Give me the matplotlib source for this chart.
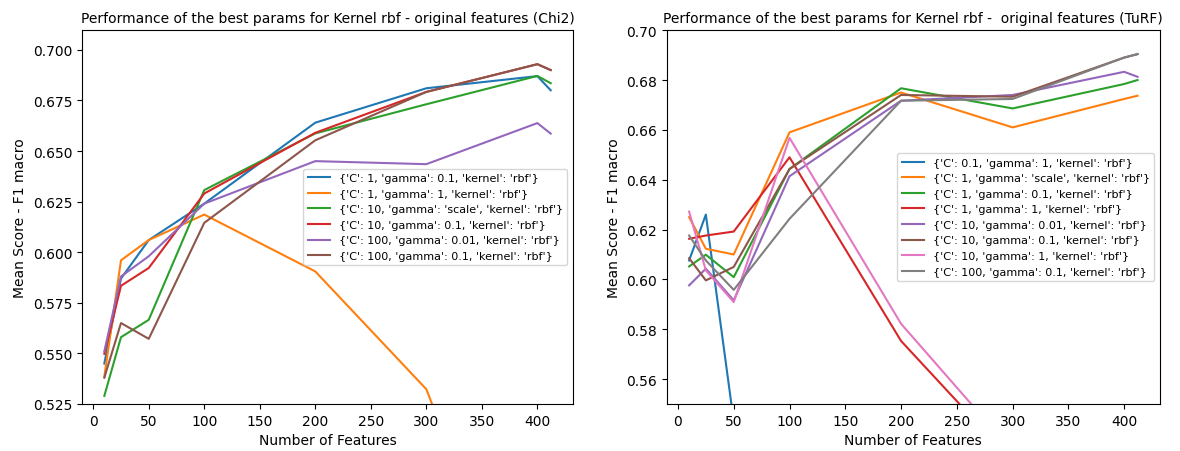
import matplotlib
matplotlib.use('Agg')
import matplotlib.pyplot as plt

# number of features tested
n_feats = [10, 25, 50, 100, 200, 300, 400, 412]

# Chi2 selection - mean F1 macro per best param set
chi2_labels = ["{'C': 1, 'gamma': 0.1, 'kernel': 'rbf'}",
               "{'C': 1, 'gamma': 1, 'kernel': 'rbf'}",
               "{'C': 10, 'gamma': 'scale', 'kernel': 'rbf'}",
               "{'C': 10, 'gamma': 0.1, 'kernel': 'rbf'}",
               "{'C': 100, 'gamma': 0.01, 'kernel': 'rbf'}",
               "{'C': 100, 'gamma': 0.1, 'kernel': 'rbf'}"]
chi2_c1_g01 = [0.545, 0.587, 0.606, 0.624, 0.664, 0.681, 0.687, 0.680]
chi2_c1_g1 = [0.5385, 0.596, 0.606, 0.6186, 0.5905, 0.5323, 0.39, 0.38]
chi2_c10_scale = [0.529, 0.558, 0.5666, 0.6307, 0.6587, 0.6731, 0.6871, 0.6835]
chi2_c10_g01 = [0.5498, 0.5834, 0.5922, 0.629, 0.659, 0.6792, 0.6929, 0.690]
chi2_c100_g001 = [0.551, 0.588, 0.598, 0.624, 0.645, 0.6435, 0.6638, 0.6586]
chi2_c100_g01 = [0.538, 0.565, 0.5572, 0.6145, 0.6553, 0.6792, 0.6929, 0.690]

# TuRF selection
turf_labels = ["{'C': 0.1, 'gamma': 1, 'kernel': 'rbf'}",
               "{'C': 1, 'gamma': 'scale', 'kernel': 'rbf'}",
               "{'C': 1, 'gamma': 0.1, 'kernel': 'rbf'}",
               "{'C': 1, 'gamma': 1, 'kernel': 'rbf'}",
               "{'C': 10, 'gamma': 0.01, 'kernel': 'rbf'}",
               "{'C': 10, 'gamma': 0.1, 'kernel': 'rbf'}",
               "{'C': 10, 'gamma': 1, 'kernel': 'rbf'}",
               "{'C': 100, 'gamma': 0.1, 'kernel': 'rbf'}"]
turf_c01_g1 = [0.6076, 0.626, 0.543, 0.50, 0.48, 0.47, 0.47, 0.47]
turf_c1_scale = [0.625, 0.6123, 0.610, 0.659, 0.675, 0.661, 0.6724, 0.6737]
turf_c1_g01 = [0.6052, 0.6099, 0.6009, 0.6443, 0.6767, 0.6686, 0.6784, 0.680]
turf_c1_g1 = [0.6163, 0.6176, 0.6192, 0.649, 0.5753, 0.527, 0.52, 0.52]
turf_c10_g001 = [0.5976, 0.6043, 0.5916, 0.6414, 0.6717, 0.674, 0.6833, 0.6813]
turf_c10_g01 = [0.6085, 0.5996, 0.605, 0.6443, 0.674, 0.6733, 0.689, 0.6904]
turf_c10_g1 = [0.6272, 0.6036, 0.5909, 0.6568, 0.5822, 0.531, 0.52, 0.52]
turf_c100_g01 = [0.6176, 0.6076, 0.5958, 0.6243, 0.6717, 0.6724, 0.689, 0.6904]

chi2_series = [chi2_c1_g01, chi2_c1_g1, chi2_c10_scale, chi2_c10_g01,
               chi2_c100_g001, chi2_c100_g01]
turf_series = [turf_c01_g1, turf_c1_scale, turf_c1_g01, turf_c1_g1,
               turf_c10_g001, turf_c10_g01, turf_c10_g1, turf_c100_g01]

fig = plt.figure(figsize=(11.8, 4.52), dpi=100)
ax1 = fig.add_axes([0.0695, 0.104, 0.4161, 0.827])
ax2 = fig.add_axes([0.565, 0.104, 0.418, 0.827])

for vals, lab in zip(chi2_series, chi2_labels):
    ax1.plot(n_feats, vals, label=lab)
ax1.set_ylim(0.525, 0.7097)
ax1.set_title('Performance of the best params for Kernel rbf - original features (Chi2)',
              fontsize=10)
ax1.set_xlabel('Number of Features')
ax1.set_ylabel('Mean Score - F1 macro')
ax1.legend(loc='center right', fontsize=8)

for vals, lab in zip(turf_series, turf_labels):
    ax2.plot(n_feats, vals, label=lab)
ax2.set_ylim(0.55, 0.70)
ax2.set_title('Performance of the best params for Kernel rbf -  original features (TuRF)',
              fontsize=10)
ax2.set_xlabel('Number of Features')
ax2.set_ylabel('Mean Score - F1 macro')
ax2.legend(loc='center right', fontsize=8)

plt.savefig('out.png', dpi=100)
